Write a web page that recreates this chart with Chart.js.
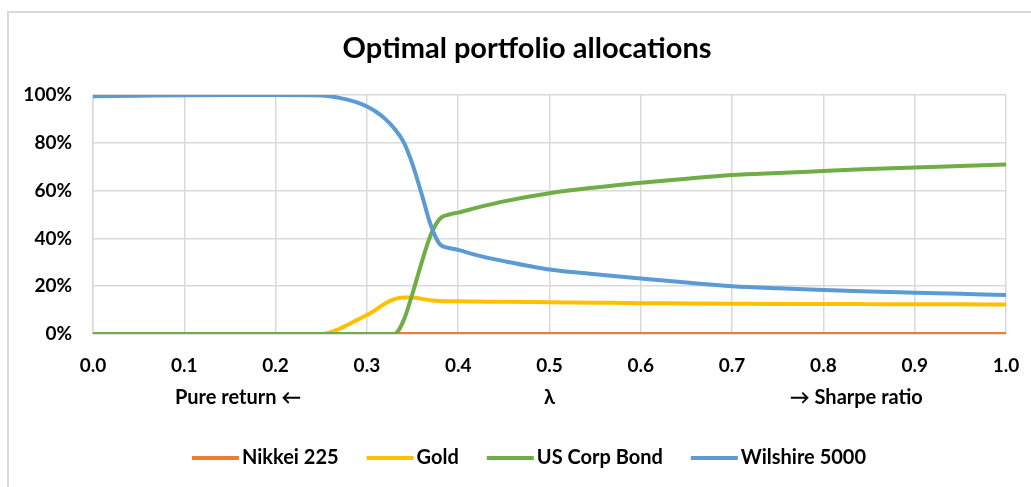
<!DOCTYPE html>
<html>
<head>
<meta charset="utf-8">
<script src="https://cdn.jsdelivr.net/npm/chart.js@4.4.1/dist/chart.umd.min.js"></script>
<style>
  html, body { margin: 0; padding: 0; background: #fff; overflow: hidden; }
  #wrap { position: relative; width: 1031px; height: 487px; }
  #frame {
    position: absolute; left: 7px; top: 11px; width: 1100px; height: 500px;
    border-top: 2px solid #d9d9d9; border-left: 2px solid #d9d9d9;
  }
  canvas { position: absolute; left: 0; top: 0; }
</style>
</head>
<body>
<div id="wrap">
  <div id="frame"></div>
  <canvas id="myChart" width="1031" height="487"></canvas>
</div>
<script>
// lambda grid (denser where the allocations switch over)
var lambdas = [0, 0.05, 0.1, 0.15, 0.2, 0.25, 0.27, 0.29, 0.3, 0.31, 0.32, 0.33, 0.34, 0.35,
  0.36, 0.37, 0.38, 0.39, 0.4, 0.42, 0.45, 0.5, 0.55, 0.6, 0.65, 0.7, 0.75, 0.8, 0.85, 0.9, 0.95, 1.0];

// weights in %
var nikkei = [0, 0, 0, 0, 0, 0, 0, 0, 0, 0, 0, 0, 0, 0,
  0, 0, 0, 0, 0, 0, 0, 0, 0, 0, 0, 0, 0, 0, 0, 0, 0, 0];
var gold = [0, 0, 0, 0, 0, 0, 2.2, 6.0, 7.9, 10.2, 12.8, 14.6, 15.3, 15.3,
  14.7, 14.1, 13.8, 13.7, 13.7, 13.6, 13.5, 13.3, 13.1, 12.9, 12.8, 12.7, 12.6, 12.6, 12.5, 12.4, 12.4, 12.3];
var corpBond = [0, 0, 0, 0, 0, 0, 0, 0, 0, 0, 0, 0, 5.5, 17,
  30, 41.5, 48.3, 50, 50.8, 52.8, 55.5, 58.9, 61.3, 63.3, 65.0, 66.5, 67.4, 68.2, 69.0, 69.7, 70.3, 70.9];
var wilshire = [99.5, 99.7, 99.9, 100, 100, 99.8, 98.8, 96.8, 95.2, 93.0, 90.0, 86.0, 80.5, 71.0,
  58.5, 45.5, 37.5, 36.0, 35.2, 33.0, 30.5, 27.0, 25.0, 23.2, 21.5, 20.0, 19.1, 18.4, 17.8, 17.3, 16.8, 16.3];

var seriesNames = ["Nikkei 225", "Gold", "US Corp Bond", "Wilshire 5000"];
var seriesColors = ["#ED7D31", "#FFC000", "#70AD47", "#5B9BD5"];
var chartTitle = "Optimal portfolio allocations";
var axisNotes = [
  { at: 0.159, text: "Pure return \u2190" },
  { at: 0.5, text: "\u03bb" },
  { at: 0.836, text: "\u2192 Sharpe ratio" }
];

var FONT = "Lato, 'Open Sans', sans-serif";

function toPoints(values) {
  return values.map(function (v, i) { return { x: lambdas[i], y: v }; });
}

var allSeries = [nikkei, gold, corpBond, wilshire];
var datasets = allSeries.map(function (vals, i) {
  return {
    label: seriesNames[i],
    data: toPoints(vals),
    borderColor: seriesColors[i],
    backgroundColor: seriesColors[i],
    borderWidth: 4,
    pointRadius: 0,
    cubicInterpolationMode: "monotone",
    fill: false,
    order: allSeries.length - i
  };
});

// title, axis notes under the tick labels, legend row
var extrasPlugin = {
  id: "extras",
  afterDraw: function (chart) {
    var ctx = chart.ctx;
    var xs = chart.scales.x;
    ctx.save();
    ctx.fillStyle = "#000";
    ctx.textAlign = "center";
    ctx.textBaseline = "middle";

    ctx.font = "bold 29px " + FONT;
    ctx.fillText(chartTitle, 527, 49);

    ctx.font = "bold 20px " + FONT;
    axisNotes.forEach(function (n) {
      ctx.fillText(n.text, xs.getPixelForValue(n.at), 398);
    });

    // legend
    var sampleW = 47, gap = 3, itemGap = 28;
    var widths = seriesNames.map(function (s) { return sampleW + gap + ctx.measureText(s).width; });
    var total = widths.reduce(function (a, b) { return a + b; }, 0) + itemGap * (widths.length - 1);
    var x = 529 - total / 2;
    var y = 458;
    ctx.textAlign = "left";
    seriesNames.forEach(function (s, i) {
      ctx.strokeStyle = seriesColors[i];
      ctx.lineWidth = 4;
      ctx.beginPath();
      ctx.moveTo(x, y);
      ctx.lineTo(x + sampleW, y);
      ctx.stroke();
      ctx.fillText(s, x + sampleW + gap, y);
      x += widths[i] + itemGap;
    });
    ctx.restore();
  }
};

var ctx = document.getElementById("myChart").getContext("2d");
var chart = new Chart(ctx, {
  type: "line",
  data: { datasets: datasets },
  options: {
    responsive: false,
    animation: false,
    layout: { padding: { left: 0, right: 25, top: 95, bottom: 0 } },
    plugins: {
      legend: { display: false },
      tooltip: { enabled: false },
      title: { display: false }
    },
    scales: {
      x: {
        type: "linear",
        min: 0,
        max: 1,
        afterFit: function (scale) {
          scale.height = 153;
          scale.paddingLeft = 0;
          scale.paddingRight = 0;
        },
        ticks: {
          stepSize: 0.1,
          padding: 20,
          color: "#000",
          font: { family: FONT, size: 19, weight: "bold" },
          callback: function (v) { return v.toFixed(1); }
        },
        grid: { color: "#d9d9d9", lineWidth: 1.5, drawTicks: false },
        border: { color: "#d9d9d9", width: 1.5 }
      },
      y: {
        min: 0,
        max: 100,
        afterFit: function (scale) { scale.width = 93; },
        ticks: {
          stepSize: 20,
          padding: 21,
          color: "#000",
          font: { family: FONT, size: 19, weight: "bold" },
          callback: function (v) { return v + "%"; }
        },
        grid: { color: "#d9d9d9", lineWidth: 1.5, drawTicks: false },
        border: { color: "#d9d9d9", width: 1.5 }
      }
    }
  },
  plugins: [extrasPlugin]
});
</script>
</body>
</html>
